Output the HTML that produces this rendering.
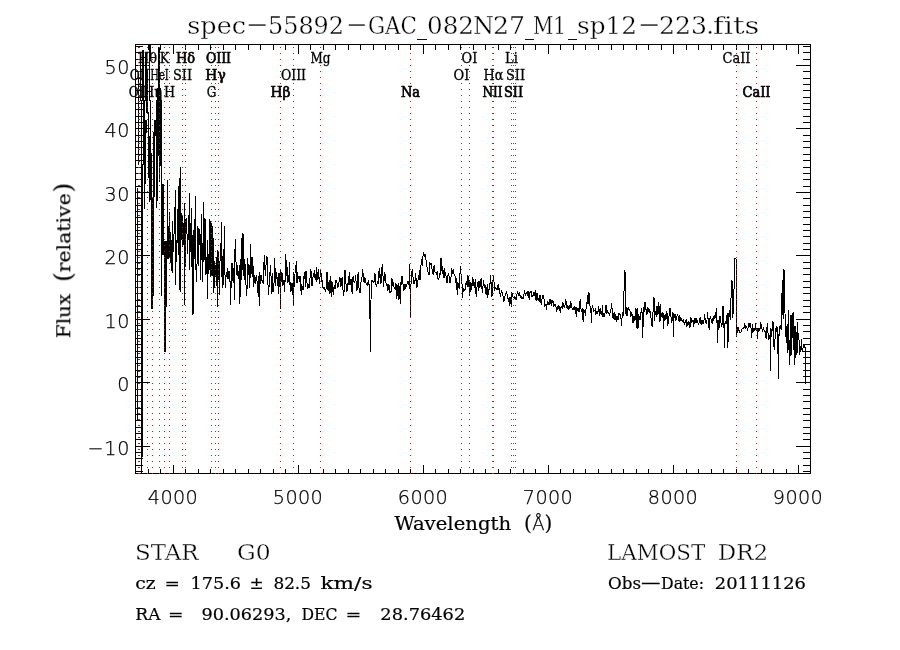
<!DOCTYPE html>
<html lang="en"><head><meta charset="utf-8"><title>spec-55892-GAC_082N27_M1_sp12-223.fits</title>
<style>
html,body{margin:0;padding:0;background:#fff;}
body{width:900px;height:650px;overflow:hidden;position:relative;font-family:"DejaVu Serif","Liberation Serif",serif;}
svg{position:absolute;left:0;top:0;display:block;}
.ax{stroke:#000;stroke-width:1;fill:none;shape-rendering:crispEdges;}
.sp{stroke:#000;stroke-width:1;fill:none;shape-rendering:crispEdges;stroke-linejoin:miter;}
.dot{stroke:#b22222;stroke-width:1;fill:none;stroke-dasharray:1 5;shape-rendering:crispEdges;}
text{fill:#000;font-variant-ligatures:none;}
.cr{font-family:"DejaVu Serif","Liberation Serif",serif;}
.thin{stroke:#fff;stroke-width:0.35px;}
.md{stroke:#000;stroke-width:0.2px;}
.pl{stroke:none;}
.sx{font-family:"DejaVu Sans Light","DejaVu Sans","Liberation Sans",sans-serif;font-weight:200;stroke:#000;stroke-width:0.25px;}
.lb{stroke:#000;stroke-width:0.3px;font-family:"DejaVu Serif Condensed","DejaVu Serif","Liberation Serif",serif;font-size:14.3px;text-anchor:middle;}
.b{stroke-width:0.65px;}
</style></head><body>
<svg width="900" height="650" viewBox="0 0 900 650">
<rect x="0" y="0" width="900" height="650" fill="#fff"/>
<path class="ax" d="M135.5 44.5H810.5V473.5H135.5ZM148.5 473V469M148.5 45V50M160.5 473V469M160.5 45V50M173.5 473V465M173.5 45V54M185.5 473V469M185.5 45V50M198.5 473V469M198.5 45V50M210.5 473V469M210.5 45V50M223.5 473V469M223.5 45V50M235.5 473V469M235.5 45V50M248.5 473V469M248.5 45V50M260.5 473V469M260.5 45V50M273.5 473V469M273.5 45V50M285.5 473V469M285.5 45V50M298.5 473V465M298.5 45V54M310.5 473V469M310.5 45V50M323.5 473V469M323.5 45V50M335.5 473V469M335.5 45V50M348.5 473V469M348.5 45V50M360.5 473V469M360.5 45V50M373.5 473V469M373.5 45V50M385.5 473V469M385.5 45V50M398.5 473V469M398.5 45V50M410.5 473V469M410.5 45V50M423.5 473V465M423.5 45V54M435.5 473V469M435.5 45V50M448.5 473V469M448.5 45V50M460.5 473V469M460.5 45V50M473.5 473V469M473.5 45V50M485.5 473V469M485.5 45V50M498.5 473V469M498.5 45V50M510.5 473V469M510.5 45V50M523.5 473V469M523.5 45V50M535.5 473V469M535.5 45V50M548.5 473V465M548.5 45V54M560.5 473V469M560.5 45V50M573.5 473V469M573.5 45V50M585.5 473V469M585.5 45V50M598.5 473V469M598.5 45V50M611.5 473V469M611.5 45V50M623.5 473V469M623.5 45V50M636.5 473V469M636.5 45V50M648.5 473V469M648.5 45V50M661.5 473V469M661.5 45V50M673.5 473V465M673.5 45V54M686.5 473V469M686.5 45V50M698.5 473V469M698.5 45V50M711.5 473V469M711.5 45V50M723.5 473V469M723.5 45V50M736.5 473V469M736.5 45V50M748.5 473V469M748.5 45V50M761.5 473V469M761.5 45V50M773.5 473V469M773.5 45V50M786.5 473V469M786.5 45V50M798.5 473V465M798.5 45V54M136 471.5H143M810 471.5H803M136 465.5H143M810 465.5H803M136 458.5H143M810 458.5H803M136 452.5H143M810 452.5H803M136 446.5H150M810 446.5H796M136 439.5H143M810 439.5H803M136 433.5H143M810 433.5H803M136 427.5H143M810 427.5H803M136 420.5H143M810 420.5H803M136 414.5H143M810 414.5H803M136 408.5H143M810 408.5H803M136 401.5H143M810 401.5H803M136 395.5H143M810 395.5H803M136 389.5H143M810 389.5H803M136 382.5H150M810 382.5H796M136 376.5H143M810 376.5H803M136 370.5H143M810 370.5H803M136 363.5H143M810 363.5H803M136 357.5H143M810 357.5H803M136 351.5H143M810 351.5H803M136 344.5H143M810 344.5H803M136 338.5H143M810 338.5H803M136 331.5H143M810 331.5H803M136 325.5H143M810 325.5H803M136 319.5H150M810 319.5H796M136 312.5H143M810 312.5H803M136 306.5H143M810 306.5H803M136 300.5H143M810 300.5H803M136 293.5H143M810 293.5H803M136 287.5H143M810 287.5H803M136 281.5H143M810 281.5H803M136 274.5H143M810 274.5H803M136 268.5H143M810 268.5H803M136 262.5H143M810 262.5H803M136 255.5H150M810 255.5H796M136 249.5H143M810 249.5H803M136 243.5H143M810 243.5H803M136 236.5H143M810 236.5H803M136 230.5H143M810 230.5H803M136 224.5H143M810 224.5H803M136 217.5H143M810 217.5H803M136 211.5H143M810 211.5H803M136 205.5H143M810 205.5H803M136 198.5H143M810 198.5H803M136 192.5H150M810 192.5H796M136 186.5H143M810 186.5H803M136 179.5H143M810 179.5H803M136 173.5H143M810 173.5H803M136 167.5H143M810 167.5H803M136 160.5H143M810 160.5H803M136 154.5H143M810 154.5H803M136 147.5H143M810 147.5H803M136 141.5H143M810 141.5H803M136 135.5H143M810 135.5H803M136 128.5H150M810 128.5H796M136 122.5H143M810 122.5H803M136 116.5H143M810 116.5H803M136 109.5H143M810 109.5H803M136 103.5H143M810 103.5H803M136 97.5H143M810 97.5H803M136 90.5H143M810 90.5H803M136 84.5H143M810 84.5H803M136 78.5H143M810 78.5H803M136 71.5H143M810 71.5H803M136 65.5H150M810 65.5H796M136 59.5H143M810 59.5H803M136 52.5H143M810 52.5H803M136 46.5H143M810 46.5H803"/>
<path class="sp" d="M137.5 188V421M138.5 75V165M140.5 53V101M141.5 100V474M142.5 50V101M142.5 164V457M143.5 50V165M144.5 100V209M145.5 53V101M145.5 120V184M146.5 53V113M146.5 120V133M147.5 70V113M148.5 112V178M149.5 45V101M149.5 136V202M150.5 45V61M150.5 100V200M151.5 153V309M152.5 198V309M153.5 132V296M154.5 120V197M155.5 120V136M156.5 100V208M157.5 88V201M158.5 47V156M159.5 47V182M160.5 88V166M161.5 100V296M162.5 184V255M163.5 184V255M164.5 241V352M165.5 241V352M166.5 241V307M167.5 180V259M168.5 226V259M169.5 212V257M170.5 232V263M171.5 240V271M172.5 221V273M173.2 235.8 173.6 252.1 174.0 233.9 174.5 230.4 174.9 213.6 175.3 190.0 175.7 285.0 176.1 245.3 176.6 261.6 177.0 239.8 177.4 243.4 177.8 237.3 178.2 185.8 178.7 255.0 179.1 245.0 179.3 188.0 179.7 290.0 179.9 182.8 180.3 167.0 180.7 292.0 180.8 206.3 181.2 218.5 181.6 240.3 182.0 231.2 182.4 247.0 182.9 216.2 183.3 242.2 183.7 244.9 184.1 217.5 184.3 203.0 184.7 305.0 185.0 250.4 185.4 267.2 185.8 220.7 186.2 218.1 186.6 228.6 187.1 235.0 187.5 253.8 187.9 244.5 188.3 227.6 188.7 215.5 189.2 226.7 189.4 193.0 189.8 270.0 190.0 220.6 190.4 246.7 190.8 251.7 191.3 207.9 191.7 244.5 192.1 273.9 192.3 235.0 192.7 315.0 193.3 240.0 193.7 314.0 193.8 229.8 194.2 259.1 194.6 247.9 195.0 219.3 195.4 196.0 195.8 270.0 195.9 264.8 196.3 270.9 196.7 281.5 197.1 259.6 197.6 255.0 198.0 226.5 198.4 265.9 198.8 241.4 199.2 245.1 199.7 229.3 200.1 235.6 200.5 244.1 200.9 280.2 201.3 213.6 201.8 224.8 202.2 258.5 202.6 282.3 203.0 264.8 203.4 214.9 203.9 202.3 204.3 259.6 204.7 237.5 205.1 229.8 205.4 219.0 205.8 262.0 206.0 275.1 206.4 256.8 206.8 259.0 207.2 263.3 207.4 240.0 207.7 299.0 208.1 267.9 208.5 266.4 208.9 267.4 209.3 226.5 209.4 219.0 209.8 262.0 210.2 276.8 210.6 269.0 211.0 221.1 211.4 247.5 211.8 276.3 212.3 226.2 212.7 257.7 213.1 281.0 213.5 237.6 213.9 292.9 214.4 273.5 214.8 261.0 215.2 269.0 215.6 277.1 216.0 270.4 216.5 286.4 216.9 259.7 217.3 250.0 217.7 307.0 218.3 255.0 218.6 251.7 219.1 277.9 219.5 294.7 219.9 267.0 220.4 242.8 220.8 256.9 221.3 261.0 221.5 222.0 221.9 270.0 222.2 288.3 222.6 255.9 223.1 284.7 223.5 251.0 224.0 249.1 224.4 272.3 224.5 226.0 224.9 272.0 225.4 287.6 225.8 279.2 226.3 273.4 226.8 271.9 227.3 278.5 227.7 268.3 228.2 272.6 228.7 278.8 229.2 271.5 229.7 281.6 230.1 281.5 230.6 304.5 231.1 284.6 231.6 266.9 232.1 262.6 232.6 267.0 233.1 283.1 233.6 268.3 234.1 275.2 234.6 299.7 235.1 239.3 235.6 243.6 236.1 265.9 236.7 275.0 237.2 275.3 237.7 265.5 238.2 278.7 238.7 277.2 239.3 265.2 239.8 304.2 240.3 286.0 240.9 267.8 241.3 238.0 241.8 280.0 241.9 267.5 242.5 269.5 243.0 233.5 243.6 253.7 244.1 280.1 244.7 258.7 245.2 267.2 245.8 283.3 246.3 286.8 246.9 296.1 247.5 257.6 248.0 263.7 248.6 265.7 249.2 278.6 249.7 288.3 250.3 244.5 250.9 278.0 251.5 257.1 252.1 276.9 252.6 256.6 253.2 270.7 253.8 287.1 254.4 276.1 255.0 276.9 255.6 284.2 256.2 278.9 256.8 274.7 257.4 292.0 258.0 291.6 258.6 276.5 259.2 305.8 259.8 271.6 260.4 284.1 261.0 274.9 261.6 276.6 262.2 283.4 262.8 280.2 263.4 283.8 264.0 261.8 264.6 255.5 265.2 276.3 265.8 265.9 266.4 262.2 267.0 256.5 267.6 283.5 268.2 286.2 268.8 294.5 269.4 272.2 270.0 275.3 270.6 264.6 271.2 280.9 271.8 294.1 272.4 273.1 273.0 291.5 273.6 291.3 274.2 279.6 274.8 258.4 275.4 285.6 276.0 278.9 276.6 272.1 277.2 279.8 277.8 282.3 278.4 293.6 279.0 272.8 279.6 287.3 280.2 270.0 280.6 309.0 281.0 280.0 281.4 282.1 282.0 272.5 282.6 286.1 283.2 281.9 283.8 280.7 284.4 292.3 285.0 280.4 285.3 254.0 285.8 282.0 286.2 269.5 286.8 259.7 287.4 280.6 288.0 282.4 288.6 274.9 289.2 278.0 289.3 262.0 289.8 285.0 290.4 282.2 291.0 291.7 291.6 282.8 292.2 289.5 292.8 295.2 293.2 272.0 293.6 306.0 294.0 284.0 294.6 287.3 295.2 267.2 295.8 267.8 296.4 261.1 297.0 283.2 297.6 271.8 298.2 278.0 298.8 278.5 299.4 280.0 300.0 276.2 300.6 281.4 301.2 294.7 301.8 285.6 302.4 286.5 303.0 290.3 303.6 282.6 304.2 272.6 304.8 274.8 305.4 287.3 306.0 271.5 306.6 274.4 307.2 286.7 307.8 288.9 308.4 284.0 309.0 288.2 309.6 285.0 310.2 274.8 310.8 269.2 311.4 273.9 312.0 286.0 312.6 279.6 313.2 275.5 313.8 275.2 314.4 270.2 315.0 278.1 315.6 273.6 316.2 282.3 316.8 267.4 317.4 280.3 318.0 278.0 318.6 269.2 319.2 283.4 319.8 281.4 320.4 268.7 321.0 273.3 321.6 281.9 322.2 279.9 322.8 286.8 323.4 288.7 324.0 288.7 324.6 286.7 325.2 292.1 325.8 289.7 326.4 287.7 327.0 272.0 327.6 285.0 328.2 291.4 328.8 283.7 329.4 280.5 330.0 293.6 330.6 275.9 331.2 283.6 331.8 297.3 332.4 281.9 333.0 286.6 333.6 294.9 334.2 285.9 334.8 287.1 335.4 289.3 336.0 279.8 336.6 281.5 337.2 284.2 337.8 288.0 338.4 284.3 339.0 282.3 339.6 277.2 340.2 279.2 340.8 286.7 341.4 284.6 342.0 278.6 342.6 276.8 343.2 295.7 343.8 292.8 344.4 289.1 345.0 270.1 345.6 282.2 346.2 285.0 346.8 292.4 347.4 287.7 348.0 283.4 348.6 285.4 349.2 272.3 349.8 284.8 350.4 284.6 351.0 278.8 351.6 288.2 352.2 293.7 352.8 277.5 353.4 276.7 354.0 281.7 354.6 282.6 355.2 279.6 355.8 275.5 356.4 291.3 357.0 290.0 357.6 277.2 358.2 272.5 358.8 287.9 359.4 288.6 360.0 293.3 360.6 289.2 361.2 278.6 361.8 281.7 362.4 269.2 363.0 273.3 363.6 278.3 364.2 283.1 364.8 277.5 365.4 279.3 366.0 283.1 366.6 283.8 367.2 285.4 367.8 283.5 368.4 279.9 369.0 285.2 369.6 284.0 370.4 352.0 371.0 300.0 371.6 284.0 372.0 279.9 372.6 281.6 373.2 281.2 373.8 282.1 374.4 280.5 375.0 273.5 375.6 281.2 376.2 287.2 376.8 285.4 377.4 281.2 378.0 283.7 378.6 276.1 379.2 268.3 379.8 277.5 380.4 274.5 381.0 283.5 381.6 275.4 382.2 263.8 382.8 269.9 383.4 287.3 384.0 280.9 384.6 273.1 385.2 274.4 385.8 282.6 386.4 284.9 387.0 283.8 387.6 291.4 388.2 289.0 388.8 283.9 389.4 286.2 390.0 293.4 390.6 291.4 391.2 291.2 391.8 278.3 392.4 280.2 393.0 286.2 393.6 281.7 394.2 288.8 394.8 288.1 395.4 289.9 396.0 283.5 396.6 298.8 397.2 295.3 397.8 285.2 398.4 284.1 399.0 299.6 399.6 285.8 400.2 289.3 400.3 283.0 400.6 304.0 401.0 282.0 401.4 285.2 402.0 276.3 402.6 281.9 403.2 284.5 403.8 289.9 404.4 289.3 405.0 284.5 405.6 287.9 406.2 287.0 406.8 284.7 407.4 283.1 408.0 280.9 408.6 285.4 409.2 280.0 409.7 264.0 410.4 318.0 411.0 284.0 411.6 276.5 412.2 269.0 412.8 273.9 413.4 282.1 414.0 284.4 414.6 281.7 415.2 279.9 415.8 273.0 416.4 287.5 417.0 284.9 417.6 286.8 418.2 277.4 418.8 277.9 419.4 270.0 420.0 279.8 420.6 277.5 421.2 259.2 421.8 261.4 422.4 266.1 423.0 255.7 423.6 252.0 424.2 254.5 424.8 257.3 425.4 254.1 426.0 260.4 426.6 264.3 427.2 267.9 427.8 269.8 428.4 274.8 429.0 275.1 429.6 263.7 430.2 264.8 430.8 263.1 431.4 263.2 432.0 268.6 432.6 271.2 433.2 275.0 433.8 266.8 434.4 266.0 435.0 271.8 435.6 272.9 436.2 272.8 436.8 274.3 437.4 270.9 438.0 278.8 438.6 279.4 439.2 277.0 439.8 272.6 440.4 274.6 441.0 258.2 441.6 265.0 442.2 273.9 442.8 266.3 443.4 275.5 444.0 278.0 444.6 268.5 445.2 273.3 445.8 274.4 446.4 280.0 447.0 282.8 447.6 279.3 448.2 272.8 448.8 275.7 449.4 277.2 450.0 283.1 450.6 282.0 451.2 274.8 451.8 268.4 452.4 273.2 453.0 272.2 453.6 269.4 454.2 275.4 454.8 274.7 455.4 278.7 456.0 282.8 456.6 277.7 457.2 295.0 457.8 282.1 458.4 288.1 459.0 283.2 459.6 288.7 460.2 266.2 460.8 270.8 461.4 279.1 462.0 284.1 462.6 297.5 463.2 287.8 463.8 291.5 464.4 289.2 465.0 289.7 465.6 287.0 466.2 281.7 466.8 284.7 467.4 274.9 468.0 287.3 468.6 276.3 469.2 281.6 469.8 295.7 470.4 284.3 471.0 282.6 471.6 289.8 472.2 284.4 472.8 277.4 473.4 282.3 474.0 286.0 474.6 288.0 475.2 279.0 475.8 292.8 476.4 296.5 477.0 286.9 477.6 285.7 478.2 280.9 478.8 291.4 479.4 280.9 480.0 286.8 480.6 281.2 481.2 278.2 481.8 286.4 482.4 292.8 483.0 286.3 483.6 280.3 484.2 287.9 484.8 284.9 485.4 286.3 486.0 294.2 486.6 294.2 487.2 284.2 487.8 298.4 488.4 288.8 489.0 290.8 489.6 282.8 490.2 284.3 490.8 275.1 491.4 293.4 492.0 296.6 492.6 283.2 493.2 278.0 493.8 276.3 494.4 291.4 495.0 287.4 495.6 288.7 496.2 288.1 496.8 289.3 497.4 285.1 498.0 289.8 498.6 284.3 499.2 289.8 499.8 293.6 500.4 295.7 501.0 293.3 501.6 289.9 502.2 294.0 502.8 292.6 503.4 301.2 504.0 300.6 504.6 297.1 505.2 294.9 505.8 293.7 506.4 292.5 507.0 294.3 507.6 297.3 508.2 299.0 508.8 299.7 509.4 305.6 510.0 297.0 510.6 297.0 511.2 307.2 511.8 293.3 512.4 294.0 513.0 296.7 513.6 297.5 514.2 298.6 514.8 296.6 515.4 298.2 516.0 297.5 516.6 299.8 517.2 291.3 517.8 292.3 518.4 295.6 519.0 293.1 519.6 292.3 520.2 297.6 520.8 294.7 521.4 297.9 522.0 299.1 522.6 297.8 523.2 298.0 523.8 295.7 524.4 290.3 525.0 293.3 525.6 295.7 526.2 292.8 526.8 293.3 527.4 296.1 528.0 290.8 528.6 294.3 529.2 299.5 529.8 292.0 530.4 292.0 531.0 290.7 531.6 297.1 532.2 295.2 532.8 297.1 533.4 292.7 534.0 294.2 534.6 295.2 535.2 290.0 535.8 299.8 536.4 301.2 537.0 293.1 537.6 299.3 538.2 298.6 538.8 300.6 539.4 301.2 540.0 295.5 540.6 298.2 541.2 304.8 541.8 300.0 542.4 297.2 543.0 295.4 543.6 295.5 544.2 300.9 544.8 307.2 545.4 305.0 546.0 303.8 546.6 310.3 547.2 303.2 547.8 300.7 548.4 304.1 549.0 305.3 549.6 300.6 550.2 298.9 550.8 303.3 551.4 304.7 552.0 300.1 552.6 302.5 553.2 302.2 553.8 305.7 554.4 304.9 555.0 304.9 555.6 304.2 556.2 308.8 556.8 311.5 557.4 306.5 558.0 309.3 558.6 304.9 559.2 306.5 559.8 309.4 560.4 312.8 561.0 307.5 561.6 307.0 562.2 307.7 562.8 302.2 563.4 305.7 564.0 304.5 564.6 307.7 565.2 303.5 565.8 299.3 566.4 305.0 567.0 307.6 567.6 305.5 568.2 310.0 568.8 307.2 569.4 305.3 570.0 308.5 570.6 302.2 571.2 303.5 571.8 306.3 572.4 310.3 573.0 307.9 573.6 308.9 574.2 305.7 574.8 308.2 575.4 314.1 576.0 307.1 576.6 316.5 577.2 308.0 577.8 308.0 578.4 308.6 579.0 312.0 579.6 304.5 580.2 299.0 580.8 307.7 581.4 311.2 582.0 311.6 582.6 319.6 583.0 308.0 583.4 322.0 583.9 309.0 584.4 313.0 585.0 311.5 585.6 316.2 586.2 306.3 586.8 306.7 587.4 294.7 588.0 304.0 588.6 293.0 589.4 294.0 590.0 306.0 590.4 312.5 591.0 308.0 591.4 323.0 591.9 310.0 592.2 305.8 592.8 306.1 593.4 311.5 594.0 310.7 594.6 310.7 595.2 309.7 595.8 314.0 596.4 313.6 597.0 310.9 597.6 313.6 598.2 311.0 598.8 306.0 599.4 315.7 600.0 314.4 600.6 308.0 601.2 314.9 601.8 313.9 602.4 305.4 603.0 316.6 603.6 314.5 604.2 316.4 604.8 314.0 605.4 311.9 606.0 305.3 606.6 314.2 607.2 312.9 607.8 311.2 608.4 313.5 609.0 313.1 609.6 315.6 610.2 311.9 610.8 312.3 611.4 303.4 612.0 308.2 612.6 314.4 613.2 319.2 613.8 313.4 614.4 312.7 615.0 319.9 615.6 313.9 616.2 316.8 616.8 321.7 617.4 316.2 618.0 319.8 618.6 312.6 619.2 314.4 619.8 313.8 620.4 314.4 621.0 319.1 621.6 326.0 622.2 314.7 622.8 311.6 623.4 315.5 623.6 314.0 624.4 270.0 625.2 273.0 625.8 312.0 626.4 316.4 627.0 307.4 627.6 315.6 628.2 307.1 628.8 308.6 629.4 309.7 630.0 310.7 630.6 317.2 631.2 315.4 631.8 312.4 632.4 316.3 633.0 322.7 633.6 316.7 634.2 316.7 634.8 321.2 635.4 317.6 636.0 308.3 636.6 325.4 637.2 329.2 637.8 308.0 638.0 314.0 638.4 328.0 638.9 314.0 639.0 315.7 639.6 319.8 640.2 319.4 640.8 314.1 641.4 308.2 642.0 312.8 642.2 312.0 642.7 338.0 643.3 316.0 643.8 306.8 644.4 311.7 645.0 302.1 645.6 308.9 646.2 309.9 646.8 315.4 647.4 310.3 648.0 307.6 648.6 309.7 649.2 312.4 649.8 309.5 650.4 312.7 651.0 318.2 651.6 322.6 652.2 327.2 652.8 313.1 653.4 311.1 654.0 297.4 654.6 321.1 655.2 311.5 655.8 313.0 656.4 317.1 657.0 306.1 657.6 314.6 658.2 314.0 658.8 301.9 659.4 312.3 660.0 321.5 660.6 303.9 661.2 316.5 661.8 316.4 662.4 318.2 663.0 312.0 663.4 329.0 663.9 314.0 664.2 316.2 664.8 321.0 665.4 314.2 666.0 319.5 666.6 311.4 667.2 313.5 667.8 325.9 668.4 321.5 669.0 316.5 669.6 308.9 670.2 308.9 670.8 315.1 671.4 321.7 672.0 320.5 672.6 320.8 673.0 312.0 673.4 337.0 673.9 316.0 674.4 316.9 675.0 313.6 675.6 321.3 676.2 318.8 676.8 316.5 677.4 314.7 678.0 316.2 678.6 321.0 679.2 321.2 679.8 315.5 680.4 320.3 681.0 321.0 681.6 318.1 682.2 322.3 682.8 320.7 683.4 320.1 684.0 322.9 684.6 325.1 685.2 320.6 685.8 322.2 686.4 319.3 687.0 326.6 687.6 321.6 688.2 324.5 688.8 320.7 689.4 323.3 690.0 327.6 690.6 316.9 691.2 319.1 691.8 322.1 692.4 321.5 693.0 319.9 693.6 326.5 694.2 323.3 694.8 318.2 695.4 322.8 696.0 317.9 696.6 323.4 697.2 320.9 697.8 322.0 698.4 325.0 699.0 323.1 699.6 319.0 700.2 316.9 700.8 323.1 701.4 323.9 702.0 319.9 702.6 323.1 703.2 323.0 703.8 323.3 704.4 314.3 705.0 317.5 705.6 322.2 706.2 323.1 706.8 323.9 707.4 311.8 708.0 317.8 708.6 320.8 709.2 330.4 709.8 318.5 710.4 317.3 711.0 318.5 711.6 322.9 712.2 317.7 712.8 324.1 713.4 315.9 714.0 318.9 714.6 315.3 715.2 318.2 715.8 314.4 716.4 307.8 717.0 322.7 717.2 320.0 717.7 343.0 718.2 322.0 718.8 320.8 719.4 327.7 720.0 316.2 720.6 319.1 721.2 325.1 721.8 327.2 722.4 321.4 723.0 305.6 723.6 328.1 724.0 322.0 724.4 348.0 724.9 324.0 725.4 321.6 726.0 324.3 726.6 319.2 727.2 313.0 727.4 320.0 727.9 348.0 728.4 322.0 729.0 313.6 729.6 310.0 730.2 319.5 730.6 318.0 731.4 280.0 732.2 282.0 732.8 318.0 733.8 300.0 734.6 258.0 735.4 258.0 736.2 259.0 736.6 337.0 737.4 330.0 738.0 327.4 738.6 328.8 739.2 331.3 739.8 332.1 740.4 332.8 741.0 332.0 741.6 329.1 742.2 329.0 742.8 328.2 743.4 327.9 744.0 328.2 744.6 323.4 745.2 326.4 745.8 328.2 746.4 325.8 747.0 328.1 747.6 330.5 748.0 328.0 748.4 323.0 749.0 327.0 749.4 323.0 750.0 326.7 750.6 322.7 751.2 330.4 751.8 338.0 752.4 324.0 753.0 328.1 753.6 330.6 754.2 328.7 754.8 330.9 755.4 322.7 756.0 330.0 756.6 330.7 757.0 328.0 757.4 339.0 758.0 330.0 758.4 330.9 759.0 328.3 759.6 329.8 760.2 327.9 760.8 321.9 761.4 327.1 762.0 329.4 762.6 331.8 763.2 327.4 763.8 328.8 764.4 331.2 765.0 330.5 765.6 334.4 766.2 339.0 766.8 329.9 767.4 322.8 768.0 332.5 768.6 339.2 769.2 338.9 769.8 338.5 770.0 335.0 770.4 371.0 770.9 338.0 771.0 328.4 771.6 336.5 772.2 328.9 772.8 321.1 773.4 323.6 774.0 346.5 774.6 350.4 775.2 334.2 775.8 328.2 776.4 332.4 777.0 326.3 777.6 338.7 777.8 336.0 778.3 379.0 778.8 334.0 779.4 336.3 780.0 325.8 780.5 328.8 780.9 327.2 781.2 322.0 781.5 329.8 781.7 316.0 782.0 293.1 782.3 280.3 782.5 291.9 782.8 303.7 783.1 319.3 783.2 300.0 783.5 270.0 784.3 271.0 784.6 312.0 784.7 287.4 785.0 312.5 785.2 331.0 785.5 337.3 785.8 328.5 786.0 325.0 786.3 342.6 786.6 332.5 786.9 341.7 787.1 342.0 787.4 335.9 787.7 352.6 787.9 325.9 788.2 321.6 788.5 312.7 788.7 310.2 789.0 349.7 789.3 365.1 789.6 340.2 789.8 342.1 790.1 353.1 790.4 350.1 790.6 356.0 790.9 316.0 791.2 314.7 791.4 332.8 791.7 354.7 792.0 339.0 792.3 318.5 792.5 320.8 792.8 316.6 793.1 312.2 793.3 349.4 793.6 326.1 793.9 329.7 794.1 365.2 794.4 360.1 794.7 345.1 795.0 325.6 795.2 336.1 795.5 358.2 795.8 349.2 796.0 356.5 796.3 340.6 796.6 342.4 796.8 332.0 797.1 338.8 797.4 353.0 797.7 322.1 797.9 331.6 798.2 338.1 798.5 333.3 798.8 335.9 799.3 344.7 799.7 354.6 800.3 349.6 800.9 347.2 801.5 339.2 802.1 351.8 802.7 348.6 803.3 347.7 803.9 344.7 804.5 346.9 L805.5 348 V383.5"/>
<path class="dot" d="M138.5 474V44M139.5 474V44M147.5 474V44M152.5 474V44M159.5 474V44M164.5 474V44M169.5 474V44M182.5 474V44M185.5 474V44M211.5 474V44M215.5 474V44M218.5 474V44M280.5 474V44M293.5 474V44M320.5 474V44M410.5 474V44M461.5 474V44M469.5 474V44M492.5 474V44M493.5 474V44M511.5 474V44M513.5 474V44M515.5 474V44M736.5 474V44M756.5 474V44"/>
<g opacity="0.999">
<text class="lb" x="138.5" y="96.5" textLength="19.6" lengthAdjust="spacingAndGlyphs">OII</text>
<text class="lb" x="139.5" y="79.5" textLength="19.6" lengthAdjust="spacingAndGlyphs">OII</text>
<text class="lb" x="147.5" y="62.5" textLength="19.1" lengthAdjust="spacingAndGlyphs">Hθ</text>
<text class="lb" x="152.5" y="96.5" textLength="19.6" lengthAdjust="spacingAndGlyphs">Hη</text>
<text class="lb" x="159.5" y="79.5" textLength="18.6" lengthAdjust="spacingAndGlyphs">HeI</text>
<text class="lb" x="164.5" y="62.5" textLength="9.6" lengthAdjust="spacingAndGlyphs">K</text>
<text class="lb" x="169.5" y="96.5" textLength="11.1" lengthAdjust="spacingAndGlyphs">H</text>
<text class="lb" x="182.5" y="79.5" textLength="19.1" lengthAdjust="spacingAndGlyphs">SII</text>
<text class="lb b" x="185.5" y="62.5" textLength="19.1" lengthAdjust="spacingAndGlyphs">Hδ</text>
<text class="lb" x="211.5" y="96.5" textLength="9.6" lengthAdjust="spacingAndGlyphs">G</text>
<text class="lb b" x="215.5" y="79.5" textLength="20.3" lengthAdjust="spacingAndGlyphs">Hγ</text>
<text class="lb b" x="218.5" y="62.5" textLength="25.200000000000003" lengthAdjust="spacingAndGlyphs">OIII</text>
<text class="lb b" x="280.5" y="96.5" textLength="19.900000000000002" lengthAdjust="spacingAndGlyphs">Hβ</text>
<text class="lb" x="293.5" y="79.5" textLength="25.200000000000003" lengthAdjust="spacingAndGlyphs">OIII</text>
<text class="lb" x="320.5" y="62.5" textLength="20.0" lengthAdjust="spacingAndGlyphs">Mg</text>
<text class="lb b" x="410.5" y="96.5" textLength="19.0" lengthAdjust="spacingAndGlyphs">Na</text>
<text class="lb" x="461.5" y="79.5" textLength="15.799999999999999" lengthAdjust="spacingAndGlyphs">OI</text>
<text class="lb" x="469.5" y="62.5" textLength="15.799999999999999" lengthAdjust="spacingAndGlyphs">OI</text>
<text class="lb b" x="492.5" y="96.5" textLength="20.200000000000003" lengthAdjust="spacingAndGlyphs">NII</text>
<text class="lb" x="493.5" y="79.5" textLength="19.900000000000002" lengthAdjust="spacingAndGlyphs">Hα</text>
<text class="lb" x="511.5" y="62.5" textLength="12.799999999999999" lengthAdjust="spacingAndGlyphs">Li</text>
<text class="lb b" x="513.5" y="96.5" textLength="19.1" lengthAdjust="spacingAndGlyphs">SII</text>
<text class="lb" x="515.5" y="79.5" textLength="19.1" lengthAdjust="spacingAndGlyphs">SII</text>
<text class="lb" x="736.5" y="62.5" textLength="28.1" lengthAdjust="spacingAndGlyphs">CaII</text>
<text class="lb b" x="756.5" y="96.5" textLength="28.1" lengthAdjust="spacingAndGlyphs">CaII</text>
<text class="sx" x="172.8" y="504" font-size="19.2" text-anchor="middle" textLength="50" lengthAdjust="spacing">4000</text>
<text class="sx" x="297.8" y="504" font-size="19.2" text-anchor="middle" textLength="50" lengthAdjust="spacing">5000</text>
<text class="sx" x="422.8" y="504" font-size="19.2" text-anchor="middle" textLength="50" lengthAdjust="spacing">6000</text>
<text class="sx" x="547.8" y="504" font-size="19.2" text-anchor="middle" textLength="50" lengthAdjust="spacing">7000</text>
<text class="sx" x="672.8" y="504" font-size="19.2" text-anchor="middle" textLength="50" lengthAdjust="spacing">8000</text>
<text class="sx" x="797.8" y="504" font-size="19.2" text-anchor="middle" textLength="50" lengthAdjust="spacing">9000</text>
<text class="sx" x="129.4" y="455" font-size="19.2" text-anchor="end" textLength="42" lengthAdjust="spacing">−10</text>
<text class="sx" x="129.4" y="391" font-size="19.2" text-anchor="end" textLength="12.2" lengthAdjust="spacing">0</text>
<text class="sx" x="129.4" y="328" font-size="19.2" text-anchor="end" textLength="24.8" lengthAdjust="spacing">10</text>
<text class="sx" x="129.4" y="264" font-size="19.2" text-anchor="end" textLength="24.8" lengthAdjust="spacing">20</text>
<text class="sx" x="129.4" y="201" font-size="19.2" text-anchor="end" textLength="24.8" lengthAdjust="spacing">30</text>
<text class="sx" x="129.4" y="137" font-size="19.2" text-anchor="end" textLength="24.8" lengthAdjust="spacing">40</text>
<text class="sx" x="129.4" y="74" font-size="19.2" text-anchor="end" textLength="24.8" lengthAdjust="spacing">50</text>
<text class="cr thin" y="33.8" font-size="24.6"><tspan x="187.3" textLength="58.7" lengthAdjust="spacingAndGlyphs">spec</tspan><tspan x="245.1" dy="-2" textLength="24.3" lengthAdjust="spacingAndGlyphs">-</tspan><tspan x="268" dy="2" textLength="76" lengthAdjust="spacingAndGlyphs">55892</tspan><tspan x="345.3" dy="-2" textLength="23.0" lengthAdjust="spacingAndGlyphs">-</tspan><tspan x="368" dy="2" textLength="49" lengthAdjust="spacingAndGlyphs">GAC</tspan><tspan class="pl" x="417" textLength="10" lengthAdjust="spacingAndGlyphs">_</tspan><tspan x="427" textLength="47" lengthAdjust="spacingAndGlyphs">082</tspan><tspan x="473" textLength="21" lengthAdjust="spacingAndGlyphs">N</tspan><tspan x="493" textLength="32" lengthAdjust="spacingAndGlyphs">27</tspan><tspan class="pl" x="525" textLength="9" lengthAdjust="spacingAndGlyphs">_</tspan><tspan x="533" textLength="33" lengthAdjust="spacingAndGlyphs">M1</tspan><tspan class="pl" x="568" textLength="9" lengthAdjust="spacingAndGlyphs">_</tspan><tspan x="577" textLength="60" lengthAdjust="spacingAndGlyphs">sp12</tspan><tspan x="637.1" dy="-2" textLength="24.3" lengthAdjust="spacingAndGlyphs">-</tspan><tspan x="659" dy="2" textLength="48" lengthAdjust="spacingAndGlyphs">223</tspan><tspan x="706.2" textLength="7.8" lengthAdjust="spacingAndGlyphs">.</tspan><tspan x="713" textLength="46.5" lengthAdjust="spacingAndGlyphs">fits</tspan></text>
<text class="cr md" x="394.4" y="529.6" font-size="18" textLength="116.7" lengthAdjust="spacingAndGlyphs">Wavelength</text>
<text class="cr md" x="523.9" y="530" font-size="20">(</text>
<text class="sx" x="532.2" y="529.6" font-size="18">Å</text>
<text class="cr md" x="544.6" y="530" font-size="20">)</text>
<g transform="translate(70.3,338.3) rotate(-90)">
<text class="cr md" x="0" y="0" font-size="19.2" textLength="44.5" lengthAdjust="spacingAndGlyphs">Flux</text>
<text class="cr md" x="66" y="0" font-size="19.2" textLength="79" lengthAdjust="spacingAndGlyphs">relative</text>
<text class="cr md" x="56.5" y="1" font-size="24">(</text>
<text class="cr md" x="146" y="1" font-size="24">)</text>
</g>
<text class="cr thin" y="560" font-size="21.9"><tspan x="135" textLength="63.6" lengthAdjust="spacingAndGlyphs">STAR</tspan> <tspan x="237" textLength="33.6" lengthAdjust="spacingAndGlyphs">G0</tspan></text>
<text class="cr thin" y="560" font-size="21.9"><tspan x="607" textLength="98.2" lengthAdjust="spacingAndGlyphs">LAMOST</tspan> <tspan x="717.8" textLength="50.4" lengthAdjust="spacingAndGlyphs">DR2</tspan></text>
<text class="cr md" y="589.4" font-size="16.5"><tspan x="135.2" textLength="20.4" lengthAdjust="spacingAndGlyphs">cz</tspan> <tspan x="164.5" textLength="15.4" lengthAdjust="spacingAndGlyphs">=</tspan> <tspan x="190.5" textLength="50.5" lengthAdjust="spacingAndGlyphs">175.6</tspan> <tspan x="249.6" textLength="14.2" lengthAdjust="spacingAndGlyphs">±</tspan> <tspan x="273.4" textLength="37.6" lengthAdjust="spacingAndGlyphs">82.5</tspan> <tspan x="320.5" textLength="52.0" lengthAdjust="spacingAndGlyphs">km/s</tspan></text>
<text class="cr md" y="589.4" font-size="16.5"><tspan x="608" textLength="33" lengthAdjust="spacingAndGlyphs">Obs</tspan><tspan x="639.3" dy="-1.3" textLength="23.0" lengthAdjust="spacingAndGlyphs">-</tspan><tspan x="661" dy="1.3" textLength="43" lengthAdjust="spacingAndGlyphs">Date:</tspan></text>
<text class="cr md" y="589.4" font-size="16.5"><tspan x="714.8" textLength="91.2" lengthAdjust="spacingAndGlyphs">20111126</tspan></text>
<text class="cr md" y="619.5" font-size="16.5"><tspan x="135.3" textLength="25.2" lengthAdjust="spacingAndGlyphs">RA</tspan> <tspan x="168" textLength="15.5" lengthAdjust="spacingAndGlyphs">=</tspan> <tspan x="201.5" textLength="90.0" lengthAdjust="spacingAndGlyphs">90.06293,</tspan> <tspan x="301.5" textLength="36.0" lengthAdjust="spacingAndGlyphs">DEC</tspan> <tspan x="345.5" textLength="15.8" lengthAdjust="spacingAndGlyphs">=</tspan> <tspan x="380.3" textLength="85.0" lengthAdjust="spacingAndGlyphs">28.76462</tspan></text>
</g>
</svg></body></html>
